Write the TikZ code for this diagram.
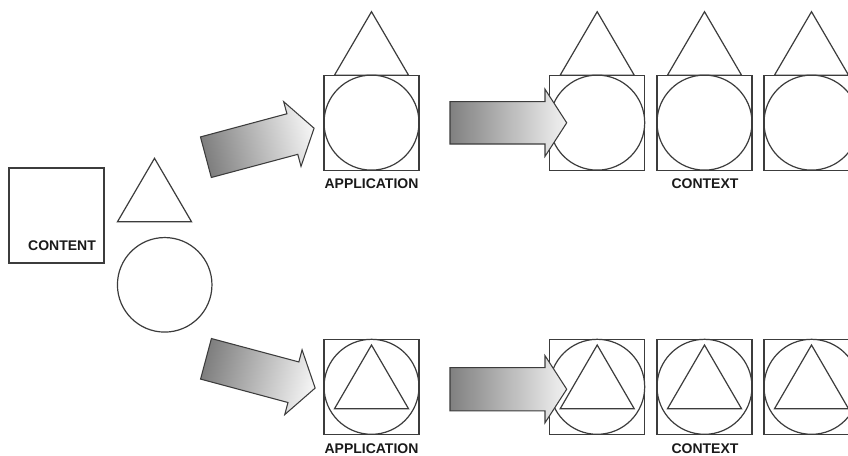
\documentclass[tikz,border=0pt]{standalone}
\usepackage{fontspec}
\setmainfont{Liberation Sans}
\usetikzlibrary{calc}
\definecolor{linec}{HTML}{3C3C3C}
\definecolor{textc}{HTML}{1A1A1A}
\definecolor{arrdark}{HTML}{808080}
\definecolor{arrlight}{HTML}{F2F2F2}
\begin{document}
\begin{tikzpicture}[x=0.75pt,y=-0.75pt,
  sq/.style={draw=linec, line width=0.9pt, minimum size=71.25pt, inner sep=0pt, outer sep=0pt},
  circ/.style={circle, draw=linec, line width=0.9pt, minimum size=71.25pt, inner sep=0pt, outer sep=0pt},
  tri/.style={draw=linec, line width=0.9pt, line join=miter},
  lbl/.style={text=textc, font=\fontsize{10.5pt}{12pt}\selectfont\bfseries, inner sep=0pt},
  bigarrow/.style={draw=linec, line width=0.8pt, line join=miter, left color=arrdark, right color=arrlight}]
\useasboundingbox (0,0) rectangle (848,455);
\clip (0,0) rectangle (848,455);
\fill[white] (0,0) rectangle (848,455);

% content
\node[sq] (content) at (56.5,215.5) {};
\node[lbl] (contentlbl) at (62,246) {CONTENT};
\coordinate (ltri) at (154.5,221.7);
\draw[tri] ($(ltri)+(-37,0)$) -- ($(ltri)+(0,-63.4)$) -- ($(ltri)+(37,0)$) -- cycle;
\node[circle, draw=linec, line width=0.9pt, minimum size=70.9pt, inner sep=0pt] (lcirc) at (164.7,284.8) {};

% top row
\foreach \n/\x in {a1/371.5, c1/597.2, c2/704.5, c3/811.5}{
  \node[sq] (\n) at (\x,122.6) {};
  \node[circ] (\n o) at (\x,122.6) {};
  \draw[tri] ($(\n.north)+(-37,0)$) -- ($(\n.north)+(0,-63.4)$) -- ($(\n.north)+(37,0)$) -- cycle;
}
% bottom row
\foreach \n/\x in {b1/371.5, d1/597.2, d2/704.5, d3/811.5}{
  \node[sq] (\n) at (\x,386.8) {};
  \node[circ] (\n o) at (\x,386.8) {};
  \draw[tri] ($(\n.north)+(-37,69.4)$) -- ($(\n.north)+(0,5.7)$) -- ($(\n.north)+(37,69.4)$) -- cycle;
}

\node[lbl] (applbl1) at (371.5,183.5) {APPLICATION};
\node[lbl] (ctxlbl1) at (705,183.5) {CONTEXT};
\node[lbl] (applbl2) at (371.5,449) {APPLICATION};
\node[lbl] (ctxlbl2) at (705,449) {CONTEXT};

% diagonal arrows
\path[bigarrow, shading angle=105] (200.47,136.92) -- (286.92,113.76) -- (283.68,101.68) -- (314.08,128.21) -- (301.02,166.4) -- (297.78,154.32) -- (211.33,177.48) -- cycle;
\path[bigarrow, shading angle=75] (211.43,338.52) -- (298.84,361.94) -- (302.08,349.86) -- (315.15,388.04) -- (284.74,414.58) -- (287.98,402.5) -- (200.57,379.08) -- cycle;

% horizontal arrows
\path[bigarrow] (450,101.6) -- (545,101.6) -- (545,89.2) -- (566.7,122.8) -- (545,156.4) -- (545,144) -- (450,144) -- cycle;
\path[bigarrow] (450,367.6) -- (545,367.6) -- (545,355.6) -- (566.7,389.2) -- (545,422.8) -- (545,410.8) -- (450,410.8) -- cycle;
\end{tikzpicture}
\end{document}
